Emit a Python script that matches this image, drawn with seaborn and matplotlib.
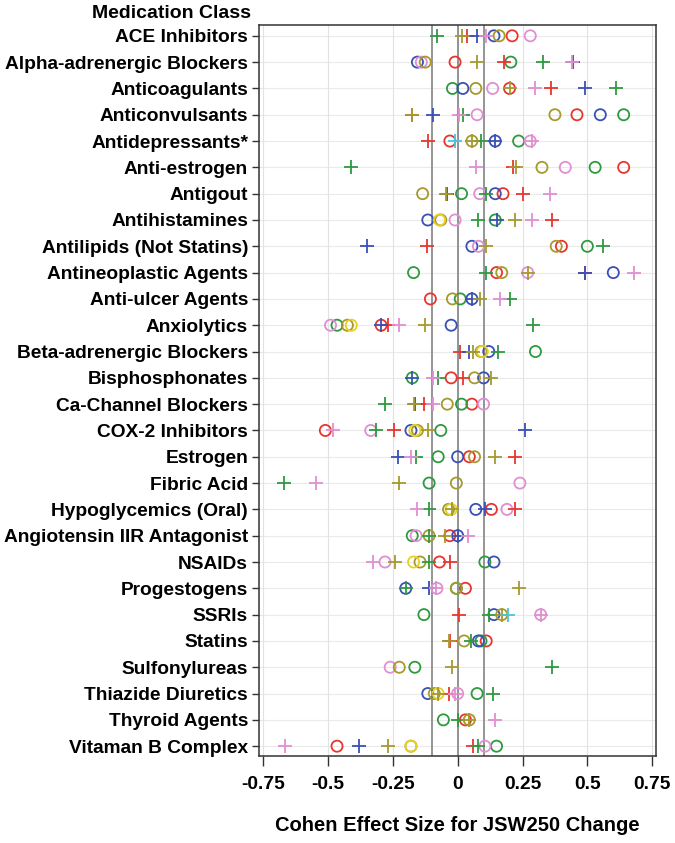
import numpy as np
import pandas as pd
import seaborn as sns
from matplotlib import pyplot as plt

nan = np.nan

categories = [
    "ACE Inhibitors", "Alpha-adrenergic Blockers", "Anticoagulants", "Anticonvulsants",
    "Antidepressants*", "Anti-estrogen", "Antigout", "Antihistamines",
    "Antilipids (Not Statins)", "Antineoplastic Agents", "Anti-ulcer Agents", "Anxiolytics",
    "Beta-adrenergic Blockers", "Bisphosphonates", "Ca-Channel Blockers", "COX-2 Inhibitors",
    "Estrogen", "Fibric Acid", "Hypoglycemics (Oral)", "Angiotensin IIR Antagonist",
    "NSAIDs", "Progestogens", "SSRIs", "Statins", "Sulfonylureas", "Thiazide Diuretics",
    "Thyroid Agents", "Vitaman B Complex",
]

x_ticks = [-0.75, -0.5, -0.25, 0, 0.25, 0.5, 0.75]
x_tick_labels = ["-0.75", "-0.5", "-0.25", "0", "0.25", "0.5", "0.75"]
ref_lines = [-0.1, 0, 0.1]

# effect sizes per medication class, one list per colour / marker
red_circle = [0.21, -0.01, 0.20, 0.46, -0.03, 0.64, 0.175, nan, 0.40, 0.15, -0.105, -0.295,
              nan, -0.025, 0.055, -0.51, 0.045, nan, 0.13, -0.03, -0.07, 0.03, nan, 0.11,
              nan, nan, 0.03, -0.465]
red_plus = [0.035, 0.18, 0.36, -0.175, -0.115, 0.215, 0.25, 0.365, -0.12, 0.49, nan, -0.27,
            0.01, 0.02, -0.13, -0.245, 0.22, nan, 0.22, nan, -0.03, nan, 0.005, -0.03,
            nan, -0.035, nan, 0.06]
green_circle = [nan, 0.205, -0.02, 0.64, 0.235, 0.53, 0.015, 0.145, 0.50, -0.17, 0.01, -0.465,
                0.30, -0.175, 0.015, -0.065, -0.075, -0.11, nan, -0.175, 0.105, -0.005, -0.13,
                0.09, -0.165, 0.075, -0.055, 0.15]
green_plus = [-0.08, 0.33, 0.61, 0.02, 0.09, -0.41, 0.11, 0.08, 0.56, 0.11, 0.20, 0.29,
              0.155, -0.075, -0.28, -0.315, -0.16, -0.67, -0.11, -0.11, -0.11, -0.20, 0.12,
              0.05, 0.365, 0.135, 0.0, 0.08]
blue_circle = [0.14, -0.155, 0.02, 0.55, 0.145, nan, 0.145, -0.115, 0.055, 0.60, 0.055, -0.025,
               0.12, 0.10, nan, -0.18, 0.0, nan, 0.07, 0.0, 0.14, -0.20, 0.14, 0.08,
               nan, -0.115, nan, nan]
blue_plus = [0.075, 0.445, 0.49, -0.095, 0.145, nan, -0.04, 0.15, -0.35, 0.49, 0.055, -0.295,
             0.045, -0.175, -0.165, 0.26, -0.23, nan, 0.105, 0.0, nan, -0.11, nan, nan,
             nan, nan, nan, -0.38]
pink_circle = [0.28, -0.14, 0.135, 0.075, 0.28, 0.415, 0.085, -0.01, 0.08, 0.27, nan, -0.49,
               nan, nan, 0.10, -0.335, nan, 0.24, 0.19, -0.16, -0.28, -0.08, 0.32, nan,
               -0.26, 0.0, nan, 0.105]
pink_plus = [0.11, 0.44, 0.30, 0.005, 0.285, 0.07, 0.355, 0.285, nan, 0.68, 0.165, -0.225,
             nan, -0.095, -0.095, -0.48, -0.18, -0.545, -0.155, 0.04, -0.325, -0.085, 0.32, nan,
             nan, -0.01, 0.145, -0.665]
olive_circle = [0.16, -0.125, 0.07, 0.375, 0.055, 0.325, -0.135, -0.065, 0.38, 0.17, -0.02,
                -0.425, 0.09, 0.065, -0.04, -0.155, 0.065, -0.005, -0.035, -0.11, -0.145,
                -0.005, 0.17, 0.025, -0.225, -0.09, 0.045, -0.18]
olive_plus = [0.015, 0.075, 0.20, -0.175, 0.055, 0.225, -0.045, 0.22, 0.11, 0.27, 0.085, -0.125,
              0.06, 0.13, -0.17, -0.115, 0.145, -0.225, -0.02, -0.05, -0.24, 0.235, 0.17,
              -0.035, -0.02, -0.075, 0.045, -0.27]
yellow_circle = [nan, nan, nan, nan, nan, nan, nan, -0.07, nan, nan, nan, -0.41,
                 0.095, nan, nan, -0.165, nan, nan, -0.025, nan, -0.17, nan, nan, nan,
                 nan, -0.075, nan, -0.18]
cyan_plus = [nan, nan, nan, nan, -0.01, nan, nan, nan, nan, nan, nan, nan,
             nan, nan, nan, nan, nan, nan, nan, nan, nan, nan, 0.195, nan,
             nan, nan, nan, nan]

series = [
    (red_circle, "#e8352e", "o"), (green_circle, "#2e9a40", "o"), (blue_circle, "#3a50b5", "o"),
    (pink_circle, "#e08fd2", "o"), (olive_circle, "#a59a2c", "o"), (yellow_circle, "#e6d21e", "o"),
    (red_plus, "#e8352e", "+"), (green_plus, "#2e9a40", "+"), (blue_plus, "#3a50b5", "+"),
    (pink_plus, "#e08fd2", "+"), (olive_plus, "#a59a2c", "+"), (cyan_plus, "#4cc3e0", "+"),
]

sns.set_style("white")
plt.rcParams["font.family"] = ["Liberation Sans", "DejaVu Sans"]

fig = plt.figure(figsize=(6.75, 8.43), dpi=100)
ax = fig.add_axes([0.384, 0.103, 0.588, 0.867])

rows = np.arange(len(categories))
for values, color, marker in series:
    df = pd.DataFrame({"effect": values, "row": rows}).dropna()
    if marker == "o":
        sns.scatterplot(data=df, x="effect", y="row", ax=ax, marker="o", s=64,
                        facecolors="none", edgecolor=color, linewidth=1.3, zorder=3)
    else:
        sns.scatterplot(data=df, x="effect", y="row", ax=ax, marker="+", s=95,
                        color=color, linewidth=1.3, zorder=3)

for r in rows:
    ax.axhline(r, color="#eaeaea", lw=0.8, zorder=0)
for t in x_ticks:
    ax.axvline(t, color="#e2e2e2", lw=0.8, zorder=0)
for v in ref_lines:
    ax.axvline(v, color="#8c8c8c", lw=1.3, zorder=2)

ax.set_xlim(-0.765, 0.765)
ax.set_ylim(len(categories) - 0.62, -0.4)
ax.set_yticks(rows)
ax.set_yticklabels(categories, fontsize=13.8, fontweight="bold", color="black")
ax.set_xticks(x_ticks)
ax.set_xticklabels(x_tick_labels, fontsize=13.8, fontweight="bold", color="black")
ax.tick_params(axis="y", length=5, width=1, left=True, pad=3, color="#333333")
ax.tick_params(axis="x", length=7, width=1, bottom=True, pad=7, color="#333333")
ax.set_ylabel("")
ax.set_xlabel("Cohen Effect Size for JSW250 Change", fontsize=14.5, fontweight="bold",
              color="black", labelpad=17)
for sp in ax.spines.values():
    sp.set_color("#333333")
    sp.set_linewidth(1.1)

fig.text(0.372, 1 - 13 / 843, "Medication Class", ha="right", va="center",
         fontsize=14, fontweight="bold", color="black")

fig.savefig("out.png", dpi=100)
